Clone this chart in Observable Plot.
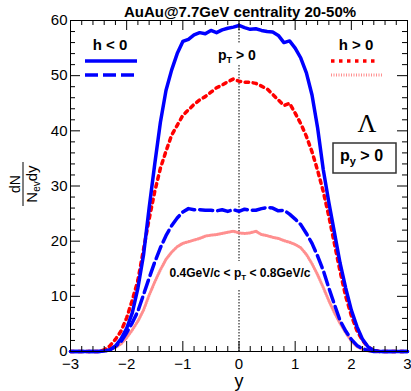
<!DOCTYPE html>
<html><head><meta charset="utf-8">
<script src="https://cdn.jsdelivr.net/npm/d3@7"></script>
<script src="https://cdn.jsdelivr.net/npm/@observablehq/plot@0.6"></script>
<style>body{margin:0;background:#fff;overflow:hidden} svg{display:block}</style>
</head><body><div id="chart"></div>
<script>
// ---- data ----
const rapidity = [-3.0,-2.5,-2.4,-2.3,-2.2,-2.1,-2.0,-1.9,-1.8,-1.7,-1.6,-1.5,-1.4,-1.3,-1.2,-1.1,-1.0,-0.9,-0.8,-0.7,-0.6,-0.5,-0.4,-0.3,-0.2,-0.1,0.0,0.1,0.2,0.3,0.4,0.5,0.6,0.7,0.8,0.9,1.0,1.1,1.2,1.3,1.4,1.5,1.6,1.7,1.8,1.9,2.0,2.1,2.2,2.3,2.4,2.5,3.0];
// h < 0, pT > 0 (solid blue)
const hNegAllPt = [0,0,0.1,0.3,1.0,2.3,4.2,7.0,11.5,17.5,26,34,41.5,47.3,51,54,56.2,56.6,57.4,57.8,57.6,58.2,57.8,58.3,58.6,58.8,59.1,58.7,58.4,58.5,58.2,58.0,57.9,57.3,56.0,56.3,55.0,53.2,50.5,46.5,40.5,33,27,21.5,16,11.5,7.5,4.5,2.2,0.8,0.2,0,0];
// h > 0, pT > 0 (red dotted)
const hPosAllPt = [0,0,0.3,1.0,2.2,3.7,6.1,9.3,12.9,18.5,24,29,33.2,36.3,39.2,41.0,42.8,43.8,44.8,45.6,46.2,47.0,47.8,48.3,48.9,49.4,49.0,48.8,48.8,48.6,48.1,47.6,46.6,45.6,44.6,45.0,43.2,41.3,39.0,36.2,32.8,29.0,24.5,19.5,14.5,10.0,6.5,3.8,2.0,0.8,0.2,0,0];
// h < 0, 0.4 < pT < 0.8 GeV/c (blue dashed)
const hNegCutPt = [0,0,0.1,0.3,0.9,1.8,3.4,5.2,7.3,10.3,13.3,16.2,18.8,21.0,22.8,24.2,25.3,25.9,25.7,25.7,25.6,25.6,25.5,25.7,25.4,25.7,25.4,25.8,25.6,25.6,25.9,26.1,26.0,25.5,25.6,24.9,24.0,23.0,21.4,19.6,17.3,14.7,11.5,8.5,5.6,3.7,2.2,1.1,0.5,0.2,0,0,0];
// h > 0, 0.4 < pT < 0.8 GeV/c (light red hatched)
const hPosCutPt = [0,0,0.1,0.3,0.7,1.4,2.5,3.9,5.5,7.5,10.2,12.6,14.8,16.7,18.0,19.0,19.6,19.9,20.2,20.5,20.9,21.1,21.2,21.4,21.6,21.8,21.5,21.4,21.5,21.8,21.2,21.0,20.7,20.5,20.1,19.8,19.4,18.8,17.6,15.9,13.9,11.6,9.2,7.0,5.1,3.4,1.9,0.9,0.4,0.1,0,0,0];
const xTicks = [-3,-2,-1,0,1,2,3];
const yTicks = [0,10,20,30,40,50,60];
const titleText = "AuAu@7.7GeV centrality 20-50%";

// ---- styles ----
const FONT = "'Liberation Sans', Arial, Helvetica, sans-serif";
const styles = {
  solid:   {stroke: "#0000ff", strokeWidth: 3.5},
  dashed:  {stroke: "#0000ff", strokeWidth: 3.5, strokeDasharray: "13 5"},
  dotted:  {stroke: "#ff0000", strokeWidth: 3.5, strokeDasharray: "3.5 4.5"},
  hatched: {stroke: "#ff6a6a", strokeWidth: 3, strokeDasharray: "1 1.5", strokeOpacity: 0.75}
};
const toRows = vals => rapidity.map((r, i) => ({y: r, v: vals[i]}));

const xMinor = d3.range(-3, 3.0001, 0.2).map(d => +d.toFixed(1)).filter(d => !xTicks.includes(d));
const yMinor = d3.range(0, 60.0001, 2).filter(d => !yTicks.includes(d));

const W = 411, H = 391, ML = 70, MR = 4, MT = 20, MB = 40;
const PW = W - ML - MR, PH = H - MT - MB;

const plot = Plot.plot({
  width: W, height: H,
  marginLeft: ML, marginRight: MR, marginTop: MT, marginBottom: MB,
  style: {fontFamily: FONT, fontSize: "15px", background: "white", color: "black", overflow: "hidden"},
  x: {domain: [-3, 3], label: null},
  y: {domain: [0, 60], label: null},
  marks: [
    Plot.ruleX([0], {stroke: "black", strokeWidth: 1, strokeDasharray: "1.5 1.5"}),
    Plot.line(toRows(hPosCutPt), {x: "y", y: "v", ...styles.hatched}),
    Plot.line(toRows(hNegCutPt), {x: "y", y: "v", ...styles.dashed}),
    Plot.line(toRows(hPosAllPt), {x: "y", y: "v", ...styles.dotted}),
    Plot.line(toRows(hNegAllPt), {x: "y", y: "v", ...styles.solid}),
    Plot.frame({stroke: "black", strokeWidth: 1}),
    // inner ticks (ROOT style)
    Plot.tickX(xTicks, {x: d => d, insetTop: PH - 10, stroke: "black"}),
    Plot.tickX(xMinor, {x: d => d, insetTop: PH - 5, stroke: "black"}),
    Plot.tickX(xTicks, {x: d => d, insetBottom: PH - 10, stroke: "black"}),
    Plot.tickX(xMinor, {x: d => d, insetBottom: PH - 5, stroke: "black"}),
    Plot.tickY(yTicks, {y: d => d, insetRight: PW - 10, stroke: "black"}),
    Plot.tickY(yMinor, {y: d => d, insetRight: PW - 5, stroke: "black"}),
    Plot.tickY(yTicks, {y: d => d, insetLeft: PW - 10, stroke: "black"}),
    Plot.tickY(yMinor, {y: d => d, insetLeft: PW - 5, stroke: "black"}),
    Plot.axisX(xTicks, {tickSize: 0, tickPadding: 7, fontSize: 15, label: null}),
    Plot.axisY(yTicks, {tickSize: 0, tickPadding: 3, fontSize: 15, label: null})
  ]
});

const svg = d3.select(plot);
const ann = svg.append("g").attr("font-family", FONT).attr("fill", "black").attr("text-anchor", "start");

// title
ann.append("text").attr("x", 240).attr("y", 17).attr("text-anchor", "middle")
  .attr("font-size", 15).attr("font-weight", "bold").text(titleText);

// x label
ann.append("text").attr("x", 239).attr("y", 387).attr("text-anchor", "middle")
  .attr("font-size", 18).text("y");

// y label (fraction)
const yl = ann.append("g").attr("transform", "translate(0,184)");
yl.append("text").attr("transform", "translate(20,0) rotate(-90)").attr("text-anchor", "middle")
  .attr("font-size", 14).text("dN");
yl.append("line").attr("x1", 23).attr("x2", 23).attr("y1", -22).attr("y2", 22)
  .attr("stroke", "black").attr("stroke-width", 1);
const den = yl.append("text").attr("transform", "translate(37,0) rotate(-90)").attr("text-anchor", "middle")
  .attr("font-size", 15);
den.append("tspan").text("N");
den.append("tspan").attr("font-size", 10).attr("dy", 3).text("ev");
den.append("tspan").attr("dy", -3).text("dy");

// legend
ann.append("text").attr("x", 110).attr("y", 50).attr("text-anchor", "middle")
  .attr("font-size", 15).attr("font-weight", "bold").text("h < 0");
ann.append("text").attr("x", 356).attr("y", 50).attr("text-anchor", "middle")
  .attr("font-size", 15).attr("font-weight", "bold").text("h > 0");
function legLine(x1, x2, y, st) {
  const l = ann.append("line").attr("x1", x1).attr("x2", x2).attr("y1", y).attr("y2", y)
    .attr("stroke", st.stroke).attr("stroke-width", st.strokeWidth);
  if (st.strokeDasharray) l.attr("stroke-dasharray", st.strokeDasharray);
  if (st.strokeOpacity) l.attr("stroke-opacity", st.strokeOpacity);
}
legLine(85, 137, 61, styles.solid);
legLine(85, 137, 75, styles.dashed);
legLine(331, 378, 61, styles.dotted);
legLine(331, 383, 75, styles.hatched);

// p_T > 0 label with white background over the dotted line
ann.append("rect").attr("x", 234).attr("y", 43).attr("width", 10).attr("height", 22).attr("fill", "white");
const t1 = ann.append("text").attr("x", 218).attr("y", 60).attr("font-size", 14).attr("font-weight", "bold");
t1.append("tspan").text("p");
t1.append("tspan").attr("font-size", 9).attr("dy", 3).text("T");
t1.append("tspan").attr("dy", -3).text(" > 0");

// lower annotation
ann.append("rect").attr("x", 234).attr("y", 261).attr("width", 10).attr("height", 28).attr("fill", "white");
const t2 = ann.append("text").attr("x", 240).attr("y", 277).attr("text-anchor", "middle")
  .attr("font-size", 12).attr("font-weight", "bold");
t2.append("tspan").text("0.4GeV/c < p");
t2.append("tspan").attr("font-size", 8).attr("dy", 3).text("T");
t2.append("tspan").attr("dy", -3).text(" < 0.8GeV/c");

// Lambda
ann.append("text").attr("x", 367).attr("y", 132).attr("text-anchor", "middle")
  .attr("font-family", "'Liberation Serif', 'Times New Roman', serif").attr("font-size", 26).text("Λ");

// p_y > 0 box
ann.append("rect").attr("x", 333).attr("y", 143).attr("width", 63).attr("height", 30)
  .attr("fill", "white").attr("stroke", "#333").attr("stroke-width", 1.5);
const t3 = ann.append("text").attr("x", 340).attr("y", 161).attr("font-size", 16).attr("font-weight", "bold");
t3.append("tspan").text("p");
t3.append("tspan").attr("font-size", 11).attr("dy", 4).text("y");
t3.append("tspan").attr("dy", -4).text(" > 0");

document.getElementById("chart").appendChild(plot);
</script>
</body></html>
